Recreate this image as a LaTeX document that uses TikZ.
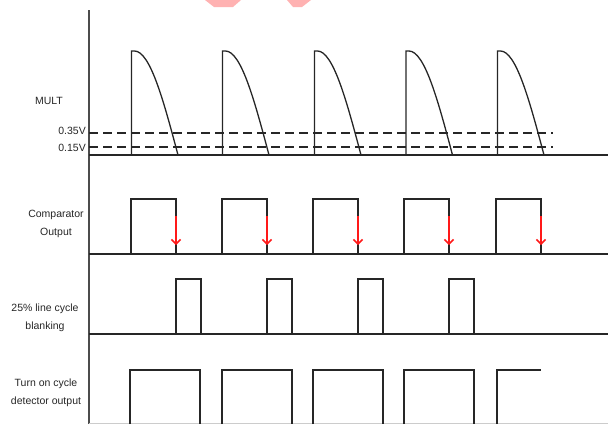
\documentclass[tikz,border=0pt]{standalone}
\usepackage{fontspec}
\setmainfont{Liberation Sans}
\usetikzlibrary{arrows.meta}

\tikzset{
  axisline/.style={line width=1.8pt, black!70},
  wave/.style={line width=1.3pt, black!85},
  level/.style={line width=1.3pt, black!85, dash pattern=on 9pt off 5pt},
  lbl/.style={font=\fontsize{10.5}{18.5}\selectfont, text=black!85, align=center, inner sep=0pt},
  fallmark/.style={red!90!white, line width=1.5pt, -{Straight Barb[length=4.5pt,width=9pt]}},
}

\begin{document}
\begin{tikzpicture}[x=1pt, y=-1pt]
  \useasboundingbox (0,0) rectangle (608,424);
  % watermark scraps at the top
  \fill[red!30] (205,0) -- (241,0) -- (233,7) -- (214,7) -- cycle;
  \fill[red!30] (287,0) -- (311,0) -- (302,7) -- (293,7) -- cycle;

  % labels
  \node[lbl] (mult) at (49,101) {MULT};
  \node[lbl, anchor=east] (vhi) at (86,131) {0.35V};
  \node[lbl, anchor=east] (vlo) at (86,148) {0.15V};
  \node[lbl] (comp) at (56,224) {Comparator\\Output};
  \node[lbl] (blank) at (45,318) {25\% line cycle\\blanking};
  \node[lbl] (detect) at (46,393) {Turn on cycle\\detector output};

  % axis and baselines
  \draw[axisline] (89,10) -- (89,424);
  \draw[wave] (89,155) -- (608,155);
  \draw[wave] (89,254) -- (608,254);
  \draw[wave] (89,334) -- (608,334);
  \draw[gray!40, line width=1pt] (89,423.5) -- (608,423.5);

  % thresholds
  \draw[level] (89,133) -- (553,133);
  \draw[level] (89,147) -- (553,147);

  % MULT
  \foreach \r in {131.5,222.5,314.5,406,497.5} {
    \draw[wave] (\r,155) -- (\r,51) -- ({\r+3},51) cos ({\r+46.5},155);
  }

  % comparator output, with the falling edges
  \foreach \r in {131,222,313,404,496} {
    \draw[wave] (\r,254) -- (\r,199) -- ({\r+45},199) -- ({\r+45},254);
    \draw[fallmark] ({\r+45},216) -- ({\r+45},245);
  }

  % blanking
  \foreach \r in {131,222,313,404} {
    \draw[wave] ({\r+45},334) -- ({\r+45},279) -- ({\r+70},279) -- ({\r+70},334);
  }

  % detector output
  \foreach \r in {130,222,313,404} {
    \draw[wave] (\r,424) -- (\r,370) -- ({\r+70},370) -- ({\r+70},424);
  }
  \draw[wave] (497,424) -- (497,370) -- (541,370);
\end{tikzpicture}
\end{document}
